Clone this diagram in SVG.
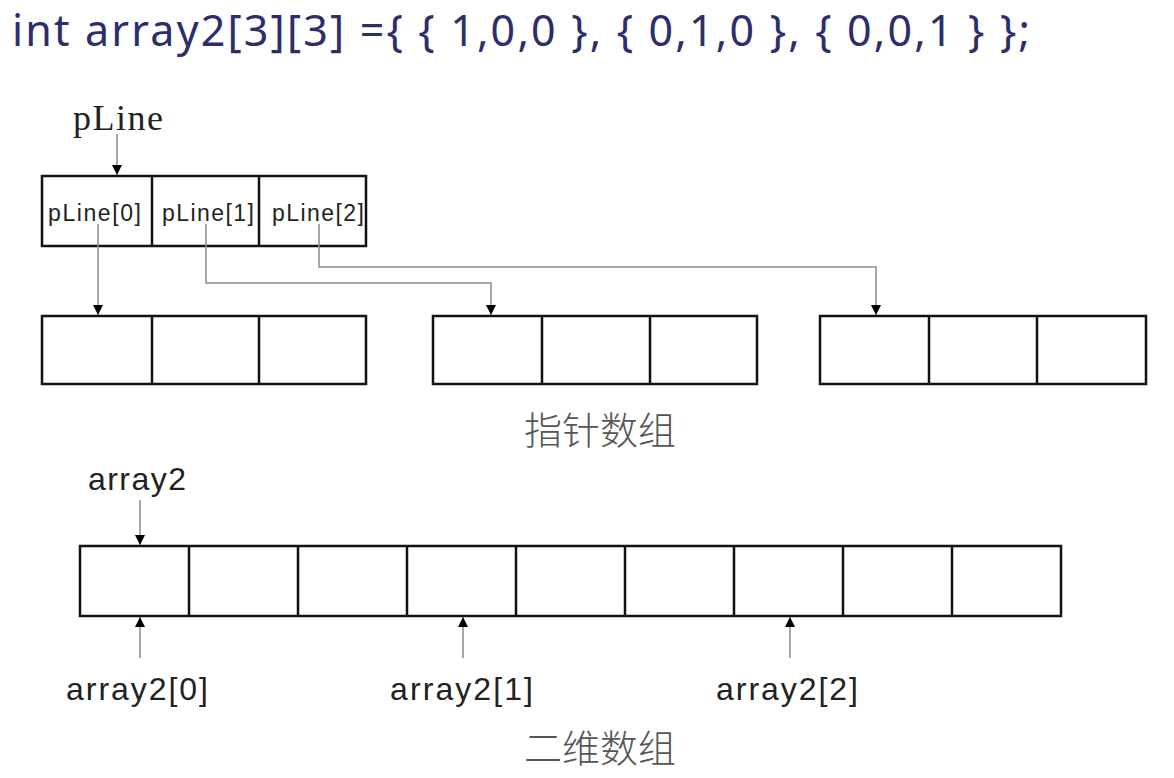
<svg xmlns="http://www.w3.org/2000/svg" width="1174" height="778" viewBox="0 0 1174 778">
<style>
.cell{fill:#fff;stroke:#111;stroke-width:2.5}
.div{stroke:#111;stroke-width:2.5}
.con{fill:none;stroke:#8a8a8a;stroke-width:1.5}
.sans{font-family:"Liberation Sans","Noto Sans",sans-serif;fill:#222}
.cjk{font-family:"Noto Sans CJK SC",sans-serif;fill:#555;font-weight:300}
</style>
<defs>
<marker id="ah" viewBox="0 0 10 10" refX="10" refY="5" markerWidth="10" markerHeight="10" markerUnits="userSpaceOnUse" orient="auto">
<path d="M0,0 L10,5 L0,10 z" fill="#000"/>
</marker>
</defs>
<rect width="1174" height="778" fill="#fff"/>
<text x="12" y="46" font-family="'Noto Sans','Liberation Sans',sans-serif" font-size="43" fill="#2d2d6b" textLength="1018">int array2[3][3] ={ { 1,0,0 }, { 0,1,0 }, { 0,0,1 } };</text>

<g id="pLine-label"><text x="73" y="130" font-family="'Liberation Serif',serif" font-size="36" fill="#222" textLength="90">pLine</text></g>

<g id="pointer-array">
<rect class="cell" x="42" y="176" width="324" height="70"/>
<line class="div" x1="152" y1="176" x2="152" y2="246"/>
<line class="div" x1="259" y1="176" x2="259" y2="246"/>
<text class="sans" x="48" y="221" font-size="23" textLength="93">pLine[0]</text>
<text class="sans" x="162" y="221" font-size="23" textLength="92">pLine[1]</text>
<text class="sans" x="272" y="221" font-size="23" textLength="92">pLine[2]</text>
</g>

<g id="row0">
<rect class="cell" x="42" y="316" width="324" height="68"/>
<line class="div" x1="152" y1="316" x2="152" y2="384"/>
<line class="div" x1="259" y1="316" x2="259" y2="384"/>
</g>
<g id="row1">
<rect class="cell" x="433" y="316" width="324" height="68"/>
<line class="div" x1="542" y1="316" x2="542" y2="384"/>
<line class="div" x1="650" y1="316" x2="650" y2="384"/>
</g>
<g id="row2">
<rect class="cell" x="820" y="316" width="326" height="68"/>
<line class="div" x1="929" y1="316" x2="929" y2="384"/>
<line class="div" x1="1037" y1="316" x2="1037" y2="384"/>
</g>
<g id="caption1"><text class="cjk" x="524" y="444" font-size="38">指针数组</text></g>

<g id="array2-label"><text class="sans" x="88" y="490" font-size="32" textLength="98">array2</text></g>

<g id="flat-array">
<rect class="cell" x="80" y="546" width="981" height="70"/>
<line class="div" x1="189" y1="546" x2="189" y2="616"/>
<line class="div" x1="298" y1="546" x2="298" y2="616"/>
<line class="div" x1="407" y1="546" x2="407" y2="616"/>
<line class="div" x1="516" y1="546" x2="516" y2="616"/>
<line class="div" x1="625" y1="546" x2="625" y2="616"/>
<line class="div" x1="734" y1="546" x2="734" y2="616"/>
<line class="div" x1="843" y1="546" x2="843" y2="616"/>
<line class="div" x1="952" y1="546" x2="952" y2="616"/>
</g>

<g id="labels-bottom">
<text class="sans" x="66" y="700" font-size="32" textLength="142">array2[0]</text>
<text class="sans" x="390" y="700" font-size="32" textLength="143">array2[1]</text>
<text class="sans" x="716" y="700" font-size="32" textLength="142">array2[2]</text>
</g>
<g id="caption2"><text class="cjk" x="524" y="762" font-size="38">二维数组</text></g>

<g id="connectors">
<path class="con" d="M117,134 L117,175" marker-end="url(#ah)"/>
<path class="con" d="M98,224 L98,315" marker-end="url(#ah)"/>
<path class="con" d="M206,224 L206,283 L491,283 L491,315" marker-end="url(#ah)"/>
<path class="con" d="M319,224 L319,267 L876,267 L876,315" marker-end="url(#ah)"/>
<path class="con" d="M140,500 L140,545" marker-end="url(#ah)"/>
<path class="con" d="M140,658 L140,617" marker-end="url(#ah)"/>
<path class="con" d="M463,658 L463,617" marker-end="url(#ah)"/>
<path class="con" d="M790,658 L790,617" marker-end="url(#ah)"/>
</g>
</svg>
